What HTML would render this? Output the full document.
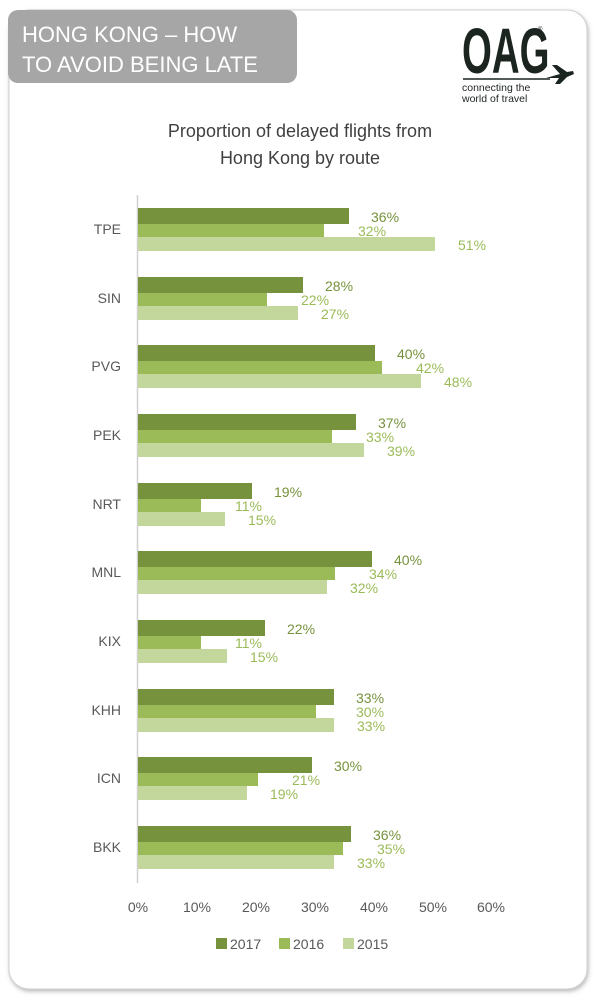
<!DOCTYPE html>
<html><head><meta charset="utf-8"><style>
html,body{margin:0;padding:0;background:#fff;width:600px;height:1000px;overflow:hidden}
svg{display:block}
</style></head><body>
<svg width="600" height="1000" viewBox="0 0 600 1000" xmlns="http://www.w3.org/2000/svg" font-family="Liberation Sans, sans-serif">
<defs><filter id="sh" x="-5%" y="-5%" width="110%" height="110%"><feDropShadow dx="1" dy="2" stdDeviation="2" flood-color="#888" flood-opacity="0.6"/></filter></defs>
<rect width="600" height="1000" fill="#fff"/>
<rect x="9" y="10" width="578" height="979" rx="20" fill="#fff" stroke="#d0d0d0" filter="url(#sh)"/>
<rect x="8" y="10" width="289" height="73" rx="10" fill="#a6a6a6"/>
<text x="22" y="42" fill="#fff" font-size="22">HONG KONG – HOW</text>
<text x="22" y="72" fill="#fff" font-size="22">TO AVOID BEING LATE</text>
<!-- logo -->
<text x="462" y="73" fill="#1c2420" font-size="64" font-weight="bold" transform="translate(462 0) scale(0.6 1) translate(-462 0)">OAG</text>
<text x="538" y="31" fill="#1c2420" font-size="6">®</text>
<path d="M463 79 L550 79" stroke="#1c2420" stroke-width="1.5"/>
<path d="M546 78 L560 74 L552 65 L557 65 L567 72 L573 71 L574 74 L567 77 L560 84 L555 84 L559 78 Z" fill="#1c2420"/>
<text x="462" y="91" fill="#1c2420" font-size="10.5">connecting the</text>
<text x="462" y="102" fill="#1c2420" font-size="10.5">world of travel</text>
<!-- title -->
<text x="300" y="137" text-anchor="middle" fill="#404040" font-size="18">Proportion of delayed flights from</text>
<text x="300" y="164" text-anchor="middle" fill="#404040" font-size="18">Hong Kong by route</text>
<line x1="137.5" y1="195" x2="137.5" y2="883" stroke="#d0d0d0" stroke-width="1.5"/>
<g font-size="14" fill="#595959" text-anchor="end">
<text x="121" y="234">TPE</text><text x="121" y="303">SIN</text><text x="121" y="371">PVG</text><text x="121" y="440">PEK</text><text x="121" y="509">NRT</text><text x="121" y="577">MNL</text><text x="121" y="646">KIX</text><text x="121" y="715">KHH</text><text x="121" y="783">ICN</text><text x="121" y="852">BKK</text>
</g>
<g>
<rect x="138" y="208" width="211" height="16" fill="#76923c"/><rect x="138" y="224" width="186" height="13" fill="#9bbb59"/><rect x="138" y="237" width="297" height="14" fill="#c3d69b"/>
<rect x="138" y="277" width="165" height="16" fill="#76923c"/><rect x="138" y="293" width="129" height="13" fill="#9bbb59"/><rect x="138" y="306" width="160" height="14" fill="#c3d69b"/>
<rect x="138" y="345" width="237" height="16" fill="#76923c"/><rect x="138" y="361" width="244" height="13" fill="#9bbb59"/><rect x="138" y="374" width="283" height="14" fill="#c3d69b"/>
<rect x="138" y="414" width="218" height="16" fill="#76923c"/><rect x="138" y="430" width="194" height="13" fill="#9bbb59"/><rect x="138" y="443" width="226" height="14" fill="#c3d69b"/>
<rect x="138" y="483" width="114" height="16" fill="#76923c"/><rect x="138" y="499" width="63" height="13" fill="#9bbb59"/><rect x="138" y="512" width="87" height="14" fill="#c3d69b"/>
<rect x="138" y="551" width="234" height="16" fill="#76923c"/><rect x="138" y="567" width="197" height="13" fill="#9bbb59"/><rect x="138" y="580" width="189" height="14" fill="#c3d69b"/>
<rect x="138" y="620" width="127" height="16" fill="#76923c"/><rect x="138" y="636" width="63" height="13" fill="#9bbb59"/><rect x="138" y="649" width="89" height="14" fill="#c3d69b"/>
<rect x="138" y="689" width="196" height="16" fill="#76923c"/><rect x="138" y="705" width="178" height="13" fill="#9bbb59"/><rect x="138" y="718" width="196" height="14" fill="#c3d69b"/>
<rect x="138" y="757" width="174" height="16" fill="#76923c"/><rect x="138" y="773" width="120" height="13" fill="#9bbb59"/><rect x="138" y="786" width="109" height="14" fill="#c3d69b"/>
<rect x="138" y="826" width="213" height="16" fill="#76923c"/><rect x="138" y="842" width="205" height="13" fill="#9bbb59"/><rect x="138" y="855" width="196" height="14" fill="#c3d69b"/>
</g>
<g font-size="14">
<g fill="#76923c">
<text x="371" y="222">36%</text><text x="325" y="291">28%</text><text x="397" y="359">40%</text><text x="378" y="428">37%</text><text x="274" y="497">19%</text><text x="394" y="565">40%</text><text x="287" y="634">22%</text><text x="356" y="703">33%</text><text x="334" y="771">30%</text><text x="373" y="840">36%</text>
</g>
<g fill="#9bbb59">
<text x="358" y="236">32%</text><text x="301" y="305">22%</text><text x="416" y="373">42%</text><text x="366" y="442">33%</text><text x="235" y="511">11%</text><text x="369" y="579">34%</text><text x="235" y="648">11%</text><text x="356" y="717">30%</text><text x="292" y="785">21%</text><text x="377" y="854">35%</text>
<text x="458" y="250">51%</text><text x="321" y="319">27%</text><text x="444" y="387">48%</text><text x="387" y="456">39%</text><text x="248" y="525">15%</text><text x="350" y="593">32%</text><text x="250" y="662">15%</text><text x="357" y="731">33%</text><text x="270" y="799">19%</text><text x="357" y="868">33%</text>
</g>
</g>
<g font-size="14" fill="#595959" text-anchor="middle">
<text x="138" y="912">0%</text><text x="197" y="912">10%</text><text x="256" y="912">20%</text><text x="315" y="912">30%</text><text x="374" y="912">40%</text><text x="433" y="912">50%</text><text x="491" y="912">60%</text>
</g>
<g font-size="14" fill="#595959">
<rect x="216" y="938" width="11" height="11" fill="#76923c"/><text x="230" y="949">2017</text>
<rect x="279" y="938" width="11" height="11" fill="#9bbb59"/><text x="293" y="949">2016</text>
<rect x="343" y="938" width="11" height="11" fill="#c3d69b"/><text x="357" y="949">2015</text>
</g>
</svg>
</body></html>
